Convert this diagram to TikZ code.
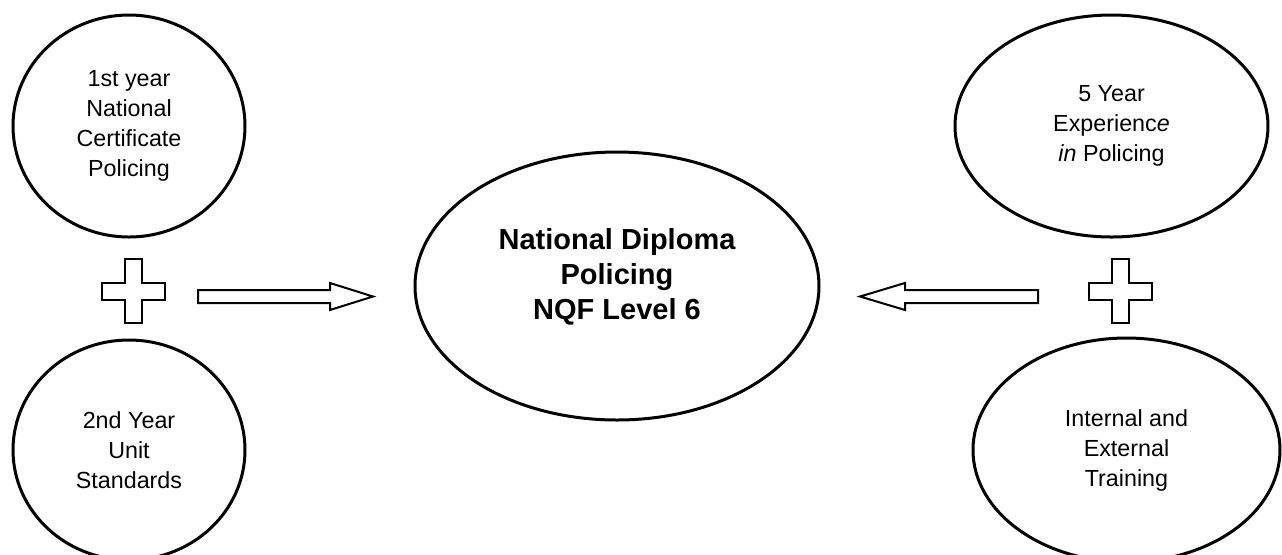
\documentclass[tikz,border=0pt]{standalone}
\usepackage{fontspec}
\setmainfont{Liberation Sans}
\usetikzlibrary{shapes.geometric}
\newcommand{\smalltext}{\fontsize{11.65}{15}\selectfont}
\newcommand{\bigtext}{\fontsize{14.5}{17.5}\selectfont\bfseries}
\tikzset{
  plusmark/.pic={\draw[line width=1pt,line join=miter]
    (-8.5,-32) -- (8.5,-32) -- (8.5,-8.5) -- (31.5,-8.5) -- (31.5,8.5) -- (8.5,8.5)
    -- (8.5,32) -- (-8.5,32) -- (-8.5,8.5) -- (-31.5,8.5) -- (-31.5,-8.5) -- (-8.5,-8.5) -- cycle;}
}

\begin{document}
\begin{tikzpicture}[x=0.5pt,y=-0.5pt,
    oval/.style={ellipse,draw,line width=1.5pt,inner sep=0pt,align=center,font=\smalltext},
    blockarrow/.style={draw,line width=1pt,line join=miter}]
        \useasboundingbox (0,0) rectangle (1282,554);
        \node[oval,minimum width=116pt,minimum height=111pt] (first) at (129,126) {1st year\\National\\Certificate\\Policing};
        \node[oval,minimum width=116pt,minimum height=110pt] (second) at (129,450) {2nd Year\\Unit\\Standards};
        \node[oval,minimum width=156.5pt,minimum height=111pt] (experience) at (1111.5,126) {5 Year\\Experienc\textit{e}\\\textit{in} Policing};
        \node[oval,minimum width=153.5pt,minimum height=112pt] (training) at (1126.5,450) {Internal and\\External\\Training};
        \node[oval,minimum width=202pt,minimum height=134pt] (diploma) at (617,286) {};
        \node[align=center,font=\bigtext,inner sep=0pt] (diplomatext) at (617,277) {National Diploma\\Policing\\NQF Level 6};
        \pic (plusleft) at (133.5,291) {plusmark};
        \pic (plusright) at (1120,291) {plusmark};
        \coordinate (rtail) at (198,296.5);
        \coordinate (ltail) at (1038,296.5);
        \draw[blockarrow] (rtail) ++(0,-6.5) -- (330,290) -- (330,283) -- (373,296.5)
            -- (330,310) -- (330,303) -- (198,303) -- cycle;
        \draw[blockarrow] (ltail) ++(0,-6.5) -- (905,290) -- (905,283) -- (860,296.5)
            -- (905,310) -- (905,303) -- (1038,303) -- cycle;
    \end{tikzpicture}
\end{document}
